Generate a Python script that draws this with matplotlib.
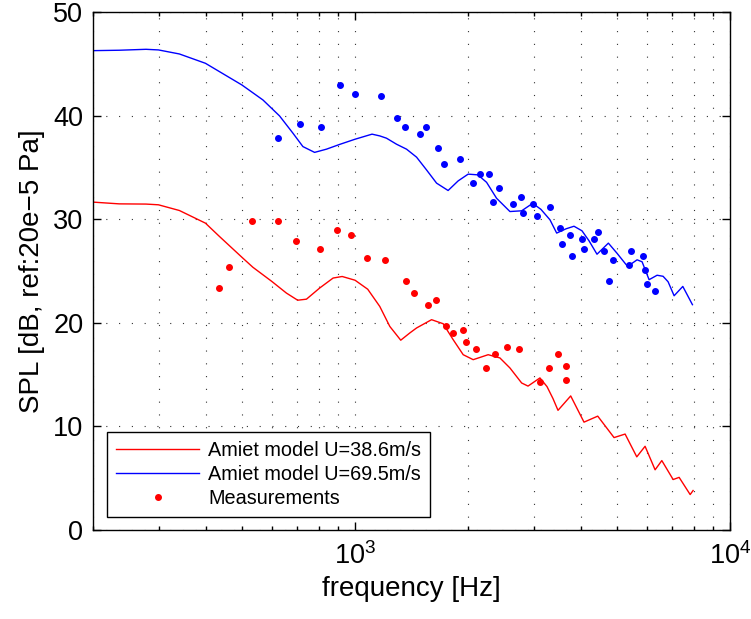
import matplotlib
matplotlib.use('Agg')
import matplotlib.pyplot as plt
from matplotlib.ticker import LogLocator, NullLocator

plt.rcParams['font.family'] = 'Liberation Sans'
plt.rcParams['mathtext.fontset'] = 'custom'
plt.rcParams['mathtext.rm'] = 'Liberation Sans'

# Amiet model, U=38.6 m/s (red)
f_red = [200, 235, 277, 299, 340, 399, 435, 499, 534, 600, 656, 703, 742,
         805, 874, 924, 1000, 1081, 1164, 1238, 1324, 1400, 1459, 1600,
         1718, 1827, 1943, 2066, 2265, 2434, 2589, 2782, 2893, 3113, 3251,
         3373, 3478, 3760, 4080, 4439, 4907, 5252, 5642, 5937, 6314, 6580,
         7054, 7318, 7831, 7974]
spl_red = [31.65, 31.48, 31.46, 31.39, 30.84, 29.62, 28.33, 26.33, 25.36,
           23.99, 22.87, 22.18, 22.28, 23.36, 24.32, 24.47, 24.11, 23.24,
           21.58, 19.65, 18.32, 19.02, 19.50, 20.30, 19.91, 18.37, 16.92,
           16.44, 16.92, 16.61, 15.64, 14.19, 13.89, 14.68, 13.84, 12.68,
           11.55, 12.94, 10.41, 10.99, 8.92, 9.26, 7.06, 8.08, 5.81, 6.70,
           4.87, 5.08, 3.42, 3.81]

# Amiet model, U=69.5 m/s (blue)
f_blue = [200, 235, 277, 299, 340, 399, 499, 568, 629, 683, 726, 780, 839,
          910, 1000, 1110, 1164, 1213, 1290, 1372, 1459, 1551, 1650, 1771,
          1884, 2003, 2126, 2243, 2385, 2589, 2782, 2977, 3132, 3311, 3450,
          3652, 3837, 4030, 4207, 4419, 4739, 4998, 5332, 5653, 5829, 6085,
          6391, 6631, 6839, 7096, 7485, 7941]
spl_blue = [46.27, 46.31, 46.40, 46.34, 45.95, 45.05, 42.96, 41.51, 39.97,
            38.30, 37.01, 36.45, 36.76, 37.22, 37.72, 38.21, 38.04, 37.82,
            37.24, 36.76, 35.99, 34.76, 33.48, 32.77, 33.70, 34.35, 34.28,
            33.56, 32.02, 30.74, 30.81, 31.53, 30.95, 29.94, 28.66, 29.07,
            29.32, 28.88, 27.92, 26.62, 27.69, 26.71, 25.44, 26.08, 25.89,
            24.16, 24.59, 24.49, 23.96, 22.61, 23.51, 21.75]

# measurements
meas_f_red = [433, 461, 532, 623, 694, 805, 895, 974, 1077, 1200, 1366, 1437,
              1564, 1643, 1743, 1827, 1943, 1972, 2097, 2229, 2365, 2542,
              2732, 3119, 3284, 3484, 3653, 3653]
meas_spl_red = [23.32, 25.34, 29.87, 29.87, 27.85, 27.15, 28.95, 28.52, 26.28,
                26.02, 23.99, 22.87, 21.75, 22.16, 19.72, 19.05, 19.27, 18.11,
                17.43, 15.64, 17.02, 17.67, 17.43, 14.29, 15.64, 17.02, 15.86,
                14.51]
meas_f_blue = [623, 712, 813, 909, 1000, 1171, 1290, 1355, 1491, 1545, 1663,
               1722, 1910, 2066, 2149, 2275, 2419, 2336, 2637, 2765, 2804,
               2982, 3051, 3317, 3527, 3571, 3751, 3790, 4022, 4080, 4339,
               4447, 4605, 4886, 4767, 5458, 5381, 5865, 5949, 6011, 6303]
meas_spl_blue = [37.82, 39.17, 38.91, 42.99, 42.09, 41.87, 39.81, 38.91,
                 38.26, 38.91, 36.89, 35.31, 35.78, 33.51, 34.41, 34.41,
                 33.03, 31.68, 31.46, 32.16, 30.59, 31.46, 30.33, 31.22,
                 29.17, 27.60, 28.52, 26.47, 28.08, 27.15, 28.08, 28.78,
                 26.95, 26.02, 23.99, 26.95, 25.57, 26.47, 25.12, 23.74, 23.07]

fig = plt.figure(figsize=(7.51, 6.19), dpi=100)
ax = fig.add_axes([0.1238, 0.1438, 0.8482, 0.8368])

ax.semilogx(f_red, spl_red, color='red', lw=1.0,
            label='Amiet model U=38.6m/s')
ax.semilogx(f_blue, spl_blue, color='blue', lw=1.0,
            label='Amiet model U=69.5m/s')
ax.plot(meas_f_red, meas_spl_red, '.', color='red', ms=8,
        label='Measurements')
ax.plot(meas_f_blue, meas_spl_blue, '.', color='blue', ms=8)

ax.set_xlim(200, 1e4)
ax.set_ylim(0, 50)
ax.set_yticks([0, 10, 20, 30, 40, 50])
ax.xaxis.set_major_locator(LogLocator(base=10))
ax.xaxis.set_minor_locator(LogLocator(base=10, subs=range(2, 10)))
ax.yaxis.set_minor_locator(NullLocator())

ax.tick_params(which='both', direction='in', top=True, right=True,
               labelsize=19.5, width=1.0)
ax.tick_params(which='major', length=6)
ax.tick_params(which='minor', length=3)
ax.tick_params(axis='x', pad=9)
ax.tick_params(axis='y', pad=7)
for sp in ax.spines.values():
    sp.set_linewidth(1.0)

grid_style = dict(color='0.2', linewidth=0.8, linestyle=(0, (1, 10.5)))
ax.grid(which='major', **grid_style)
ax.xaxis.grid(which='minor', **grid_style)

ax.set_xlabel('frequency [Hz]', fontsize=20)
ax.set_ylabel('SPL [dB, ref:20e\u22125 Pa]', fontsize=20, labelpad=6)

leg = ax.legend(loc='lower left', bbox_to_anchor=(0.022, 0.025),
                borderaxespad=0, fontsize=14.3, numpoints=1,
                handlelength=4.2, handletextpad=0.45, labelspacing=0.25,
                borderpad=0.45, fancybox=False, framealpha=1)
leg.get_frame().set_edgecolor('black')
leg.get_frame().set_linewidth(1.0)

fig.savefig('out.png', dpi=100)
